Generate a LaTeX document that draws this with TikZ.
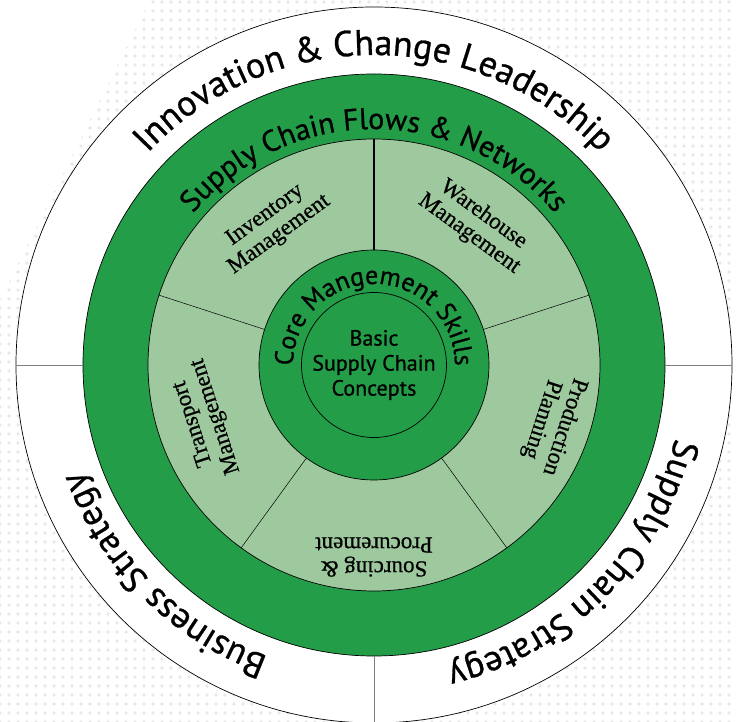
\documentclass[tikz,border=0pt]{standalone}
\usepackage{fontspec}
\setmainfont{Liberation Serif}[FakeBold=0.6]
\newfontfamily\ringfont{PT Sans}[FakeBold=0.8]
\usetikzlibrary{positioning,calc,decorations.text,patterns.meta}

\definecolor{ringgreen}{RGB}{35,157,72}
\definecolor{sectorgreen}{RGB}{158,201,158}

\begin{document}
\begin{tikzpicture}[
    ring/.style={circle, draw=black, line width=0.7pt, inner sep=0pt, outer sep=0pt},
    divider/.style={draw=black, line width=0.5pt},
    sector/.style={align=center, inner sep=0pt, font=\fontsize{23pt}{24pt}\selectfont},
    arctext/.style={decorate, decoration={text along path, text align=center, #1}}
]
    \useasboundingbox (-374pt,-357pt) rectangle (362pt,365pt);

    %background
    \fill[pattern={Dots[distance=9pt,radius=1.8pt]}, pattern color=gray!18]
        (-224pt,365pt) -- (362pt,365pt) -- (362pt,-357pt) -- (-374pt,-357pt) -- (-374pt,65pt) -- cycle;

    %coordinates
    \coordinate (orig) at (0,0);

    \coordinate (IM) at (126:173pt);
    \coordinate (WM) at (54:174pt);
    \coordinate (TM) at (198:178pt);
    \coordinate (PP) at (342:188pt);
    \coordinate (SP) at (270:192pt);

    %nodes
    \node[ring, fill=white, minimum size=716pt] (outer) at (orig) {};
    \node[ring, fill=ringgreen, minimum size=582pt] (flows) at (orig) {};
    \node[ring, fill=sectorgreen, minimum size=452pt] (tools) at (orig) {};
    \node[ring, fill=ringgreen, minimum size=230pt] (core) at (orig) {};
    \node[ring, fill=ringgreen, minimum size=145pt, align=center,
          font=\ringfont\fontsize{22pt}{25pt}\selectfont] (basic) at (orig) {Basic\\Supply Chain\\Concepts};

    \node[sector, rotate=36]   (inv)  at (IM) {Inventory\\Management};
    \node[sector, rotate=-36]  (ware) at (WM) {Warehouse\\Management};
    \node[sector, rotate=108]  (trans) at (TM) {Transport\\Management};
    \node[sector, rotate=-108] (prod) at (PP) {Production\\Planning};
    \node[sector, rotate=180]  (sourc) at (SP) {Sourcing {\&}\\Procurement};

    %edges
    \draw[gray, line width=0.6pt] (flows.180) -- (outer.180);
    \draw[gray, line width=0.6pt] (flows.0) -- (outer.0);
    \draw[gray, line width=0.6pt] (flows.270) -- (outer.270);

    \draw[divider, line width=1.3pt] (core.90) -- (tools.90);
    \draw[divider] (core.162) -- (tools.162);
    \draw[divider] (core.234) -- (tools.234);
    \draw[divider] (core.306) -- (tools.306);
    \draw[divider] (core.18) -- (tools.18);

    %ring titles
    \path[arctext={text={|\ringfont\fontsize{36pt}{40pt}\selectfont|Innovation {\&} Change Leadership}}]
        (180:310pt) arc[start angle=180, end angle=0, radius=310pt];
    \path[arctext={text={|\ringfont\fontsize{36pt}{40pt}\selectfont|Business Strategy}}]
        (270:310pt) arc[start angle=270, end angle=180, radius=310pt];
    \path[arctext={text={|\ringfont\fontsize{36pt}{40pt}\selectfont|Supply Chain Strategy}}]
        (360:310pt) arc[start angle=360, end angle=270, radius=310pt];
    \path[arctext={text={|\ringfont\fontsize{30pt}{34pt}\selectfont|Supply Chain Flows {\&} Networks}}]
        (180:236pt) arc[start angle=180, end angle=0, radius=236pt];
    \path[arctext={text={|\ringfont\fontsize{26pt}{30pt}\selectfont|Core Mangement Skills}}]
        (185:81pt) arc[start angle=185, end angle=-5, radius=81pt];
\end{tikzpicture}
\end{document}
